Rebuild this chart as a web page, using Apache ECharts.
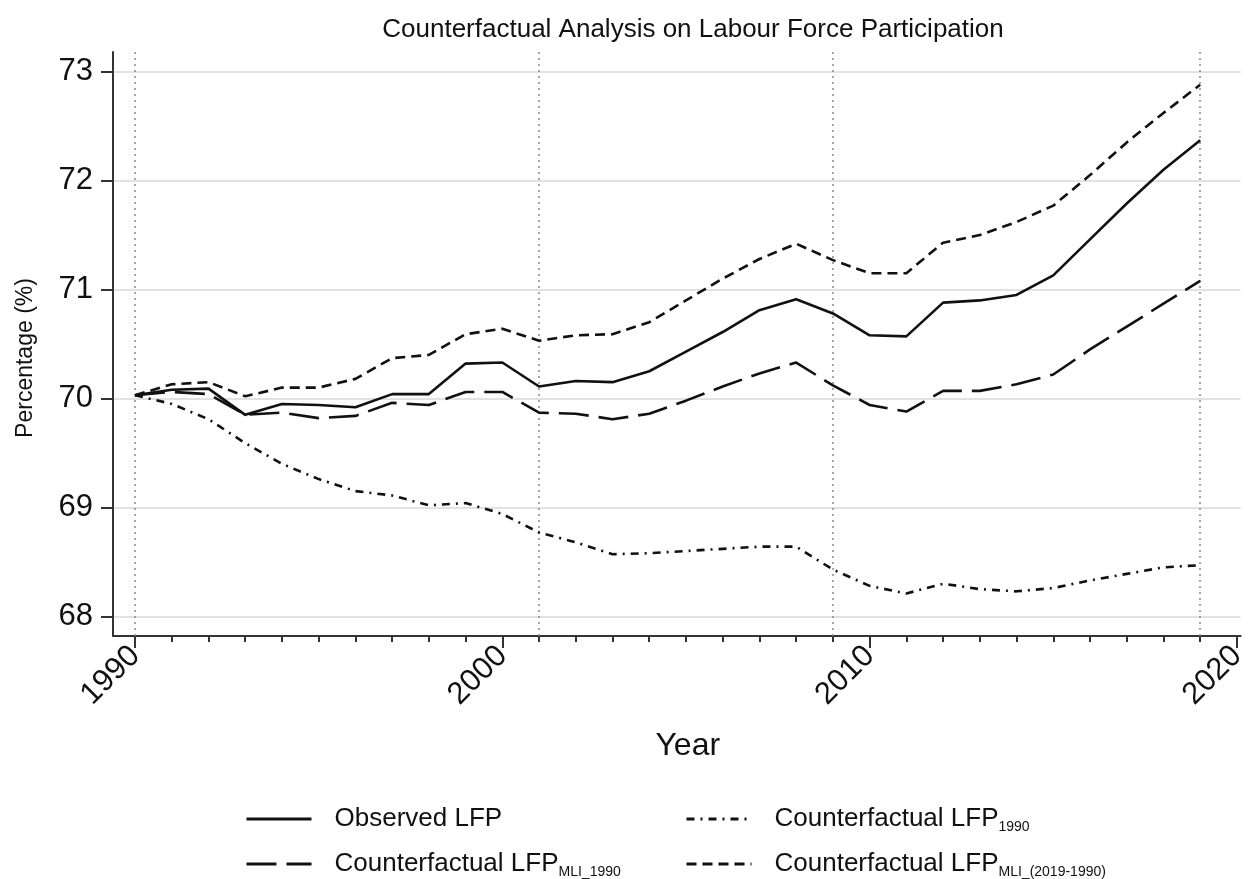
<!DOCTYPE html>
<html>
<head>
<meta charset="utf-8">
<title>Counterfactual Analysis on Labour Force Participation</title>
<script src="https://cdn.jsdelivr.net/npm/echarts@6/dist/echarts.min.js"></script>
<style>
  html, body { margin: 0; padding: 0; background: #ffffff; }
  #chart { width: 1250px; height: 879px; }
</style>
</head>
<body>
<div id="chart"></div>
<script>
// Years on the horizontal axis
const years = [1990, 1991, 1992, 1993, 1994, 1995, 1996, 1997, 1998, 1999,
               2000, 2001, 2002, 2003, 2004, 2005, 2006, 2007, 2008, 2009,
               2010, 2011, 2012, 2013, 2014, 2015, 2016, 2017, 2018, 2019];

// Labour force participation, percent
const observed = [70.03, 70.08, 70.09, 69.85, 69.95, 69.94, 69.92, 70.04, 70.04, 70.32,
                  70.33, 70.11, 70.16, 70.15, 70.25, 70.43, 70.61, 70.81, 70.91, 70.78,
                  70.58, 70.57, 70.88, 70.90, 70.95, 71.13, 71.46, 71.79, 72.10, 72.37];
const cfMli1990 = [70.03, 70.06, 70.04, 69.85, 69.87, 69.82, 69.84, 69.96, 69.94, 70.06,
                   70.06, 69.87, 69.86, 69.81, 69.86, 69.98, 70.11, 70.23, 70.33, 70.12,
                   69.94, 69.88, 70.07, 70.07, 70.13, 70.22, 70.45, 70.66, 70.87, 71.08];
const cf1990 = [70.03, 69.95, 69.81, 69.59, 69.40, 69.26, 69.15, 69.11, 69.02, 69.04,
                68.94, 68.77, 68.68, 68.57, 68.58, 68.60, 68.62, 68.64, 68.64, 68.43,
                68.28, 68.21, 68.30, 68.25, 68.23, 68.26, 68.33, 68.39, 68.45, 68.47];
const cfMli2019 = [70.03, 70.13, 70.15, 70.02, 70.10, 70.10, 70.18, 70.37, 70.40, 70.59,
                   70.64, 70.53, 70.58, 70.59, 70.70, 70.90, 71.10, 71.28, 71.42, 71.27,
                   71.15, 71.15, 71.43, 71.50, 71.62, 71.77, 72.05, 72.35, 72.62, 72.88];

// Tick labels and reference years
const xMajorTicks = [1990, 2000, 2010, 2020];
const xMinorTicks = [1990, 1991, 1992, 1993, 1994, 1995, 1996, 1997, 1998, 1999,
                     2000, 2001, 2002, 2003, 2004, 2005, 2006, 2007, 2008, 2009,
                     2010, 2011, 2012, 2013, 2014, 2015, 2016, 2017, 2018, 2019, 2020];
const yTicks = [68, 69, 70, 71, 72, 73];
const refYears = [1990, 2001, 2009, 2019];

const seriesNames = {
  observed: 'Observed LFP',
  cfMli1990: 'Counterfactual LFP{sub|MLI_1990}',
  cf1990: 'Counterfactual LFP{sub|1990}',
  cfMli2019: 'Counterfactual LFP{sub|MLI_(2019-1990)}'
};

const FONT = '"Liberation Sans", Arial, Helvetica, sans-serif';
const INK = '#111111';

function pairs(values) {
  return years.map((y, i) => [y, values[i]]);
}

function lineSeries(key, values, dash, extra) {
  return Object.assign({
    name: key,
    type: 'line',
    xAxisIndex: 0,
    yAxisIndex: 0,
    data: pairs(values),
    symbol: 'none',
    showSymbol: false,
    silent: true,
    z: 5,
    lineStyle: { color: INK, width: 2.6, type: dash, cap: 'butt', join: 'round' },
    itemStyle: { color: INK }
  }, extra || {});
}

const legendText = {
  fontFamily: FONT,
  fontSize: 26,
  color: INK,
  lineHeight: 30,
  padding: [0, 0, 0, 18],
  rich: {
    sub: { fontFamily: FONT, fontSize: 14, color: INK, verticalAlign: 'bottom', lineHeight: 30 }
  }
};

// one legend entry per slot of the 2x2 key
function legendEntry(key, left, top) {
  return {
    data: [key],
    orient: 'horizontal',
    left: left,
    top: top,
    padding: 0,
    itemWidth: 65,
    itemHeight: 14,
    selectedMode: false,
    formatter: name => seriesNames[name],
    itemStyle: { opacity: 0 },
    lineStyle: { width: 3 },
    textStyle: legendText
  };
}

const chart = echarts.init(document.getElementById('chart'), null, { renderer: 'canvas' });

chart.setOption({
  backgroundColor: '#ffffff',
  animation: false,
  title: {
    text: 'Counterfactual Analysis on Labour Force Participation',
    left: 688,
    textAlign: 'center',
    top: 12,
    textStyle: { fontFamily: FONT, fontSize: 26, fontWeight: 'normal', color: INK }
  },
  grid: { left: 113, right: 5, top: 52, bottom: 243, containLabel: false },
  xAxis: [
    {
      type: 'value',
      min: 1989.4,
      max: 2020.1,
      name: 'Year',
      nameLocation: 'middle',
      nameGap: 94,
      nameTextStyle: { fontFamily: FONT, fontSize: 32, color: INK, padding: [0, 0, 0, 22] },
      axisLine: { show: true, onZero: false, lineStyle: { color: '#333333', width: 2 } },
      axisTick: { show: true, length: 12, lineStyle: { color: '#333333', width: 2 }, customValues: xMajorTicks },
      axisLabel: {
        rotate: 45, margin: 15, fontFamily: FONT, fontSize: 31, color: INK,
        customValues: xMajorTicks, formatter: v => String(v)
      },
      splitLine: { show: false }
    },
    {
      type: 'value',
      min: 1989.4,
      max: 2020.1,
      position: 'bottom',
      axisLine: { show: false },
      axisTick: { show: true, length: 6, lineStyle: { color: '#333333', width: 2 }, customValues: xMinorTicks },
      axisLabel: { show: false },
      splitLine: { show: false }
    }
  ],
  yAxis: {
    type: 'value',
    min: 67.82,
    max: 73.18,
    name: 'Percentage (%)',
    nameLocation: 'middle',
    nameGap: 76,
    nameTextStyle: { fontFamily: FONT, fontSize: 23, color: INK, padding: [0, 28, 0, 0] },
    axisLine: { show: true, onZero: false, lineStyle: { color: '#333333', width: 2 } },
    axisTick: { show: true, length: 12, lineStyle: { color: '#333333', width: 2 }, customValues: yTicks },
    axisLabel: { margin: 20, fontFamily: FONT, fontSize: 31, color: INK, customValues: yTicks, formatter: v => String(v) },
    splitLine: { show: true, lineStyle: { color: '#e2e2e2', width: 2 } }
  },
  legend: [
    legendEntry('observed', 245, 804),
    legendEntry('cfMli1990', 245, 849),
    legendEntry('cf1990', 685, 804),
    legendEntry('cfMli2019', 685, 849)
  ],
  series: [
    lineSeries('observed', observed, 'solid', {
      markLine: {
        silent: true,
        symbol: 'none',
        label: { show: false },
        lineStyle: { color: '#8a8a8a', width: 1.5, type: [2, 4] },
        data: refYears.map(y => ({ xAxis: y }))
      }
    }),
    lineSeries('cfMli1990', cfMli1990, [30, 10]),
    lineSeries('cf1990', cf1990, [8, 6, 2, 6]),
    lineSeries('cfMli2019', cfMli2019, [10, 6])
  ]
});
</script>
</body>
</html>
